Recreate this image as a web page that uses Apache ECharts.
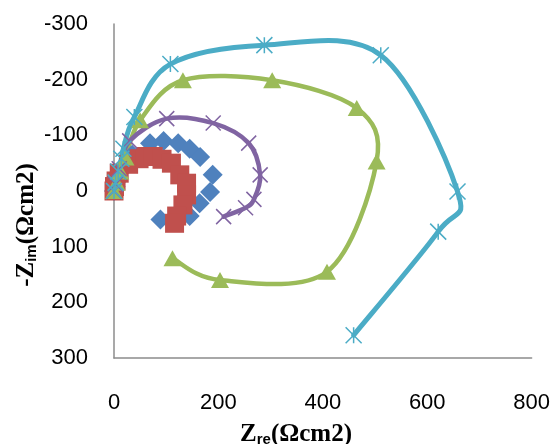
<!DOCTYPE html>
<html lang="en">
<head>
    <meta charset="UTF-8">
    <title>Nyquist plot</title>
    <script src="https://cdn.jsdelivr.net/npm/echarts@6/dist/echarts.min.js"></script>
    <style>
        html, body { margin: 0; padding: 0; background: #fff; }
        #main { width: 553px; height: 444px; }
    </style>
</head>
<body>
    <div id="main"></div>
    <script>
        // axis ticks
        const xTicks = [0, 200, 400, 600, 800];
        const yTicks = [-300, -200, -100, 0, 100, 200, 300];

        // series values (Zre, -Zim)
        const blueRe = [0, 3, 8, 18, 35, 69, 95, 123, 145, 165, 189, 184, 164, 145, 120, 89];
        const blueIm = [0, -8, -20, -40, -65, -86, -90, -86, -76, -61, -29, 2, 22, 45, 55, 51];

        const redRe = [0, 1, 4, 10, 28, 48, 60, 75, 92, 110, 126, 139, 139, 132, 120, 116];
        const redIm = [0, -8, -18, -32, -48, -58, -62, -62, -57, -50, -29, -14, 7, 25, 45, 58];

        const greenRe = [0, 5, 12, 22, 50, 132, 303, 465, 503, 408, 203, 112];
        const greenIm = [0, -15, -35, -60, -127, -199, -199, -149, -53, 145, 160, 121];

        const purpleRe = [0, 3, 10, 30, 101, 190, 258, 280, 268, 252, 210];
        const purpleIm = [0, -12, -40, -90, -130, -122, -86, -29, 15, 30, 46];

        const cyanRe = [0, 3, 8, 14, 18, 39, 108, 288, 511, 658, 621, 459];
        const cyanIm = [0, -15, -35, -58, -76, -133, -228, -262, -244, 1, 73, 259];

        const pairs = (xs, ys) => xs.map((x, i) => [x, ys[i]]);

        const chart = echarts.init(document.getElementById('main'));

        const axisGray = '#8c8c8c';
        const labelFont = { fontFamily: 'Liberation Sans', fontSize: 22, color: '#000' };
        const nameRich = {
            a: { fontFamily: 'Liberation Serif', fontWeight: 'bold', fontSize: 25, color: '#000', verticalAlign: 'bottom', lineHeight: 28 },
            b: { fontFamily: 'Liberation Sans', fontWeight: 'bold', fontSize: 15, color: '#000', verticalAlign: 'bottom', lineHeight: 24 }
        };

        // Excel-style smoothed line: Catmull-Rom through the points, mapped with api.coord
        function smoothCurve(data, color, width) {
            return {
                type: 'custom',
                data: data,
                silent: true,
                renderItem: function (params, api) {
                    if (params.dataIndexInside !== 0) return null;
                    const p = data.map(d => api.coord(d));
                    let path = 'M' + p[0][0] + ',' + p[0][1];
                    for (let i = 0; i < p.length - 1; i++) {
                        const p0 = p[i - 1] || p[i];
                        const p1 = p[i];
                        const p2 = p[i + 1];
                        const p3 = p[i + 2] || p2;
                        const c1 = [p1[0] + (p2[0] - p0[0]) / 6, p1[1] + (p2[1] - p0[1]) / 6];
                        const c2 = [p2[0] - (p3[0] - p1[0]) / 6, p2[1] - (p3[1] - p1[1]) / 6];
                        path += 'C' + c1[0] + ',' + c1[1] + ',' + c2[0] + ',' + c2[1] + ',' + p2[0] + ',' + p2[1];
                    }
                    return {
                        type: 'path',
                        shape: { pathData: path },
                        style: { stroke: color, lineWidth: width, fill: null, lineJoin: 'round', lineCap: 'round' }
                    };
                }
            };
        }

        function strokeMarkers(data, symbol, size, color) {
            return {
                type: 'scatter',
                data: data,
                symbol: symbol,
                symbolSize: size,
                itemStyle: { color: 'rgba(0,0,0,0)', borderColor: color, borderWidth: 1.5, opacity: 1 }
            };
        }

        const greenData = pairs(greenRe, greenIm);
        const purpleData = pairs(purpleRe, purpleIm);
        const cyanData = pairs(cyanRe, cyanIm);

        const option = {
            animation: false,
            grid: { left: 114, right: 21, top: 24, bottom: 86 },
            xAxis: {
                type: 'value',
                min: xTicks[0],
                max: xTicks[xTicks.length - 1],
                interval: 200,
                axisLine: { show: true, onZero: false, lineStyle: { color: axisGray, width: 1.5 } },
                axisTick: { show: false },
                splitLine: { show: false },
                axisLabel: Object.assign({ margin: 34 }, labelFont)
            },
            yAxis: {
                type: 'value',
                inverse: true,
                min: yTicks[0],
                max: yTicks[yTicks.length - 1],
                interval: 100,
                axisLine: { show: true, onZero: false, lineStyle: { color: axisGray, width: 1.5 } },
                axisTick: { show: false },
                splitLine: { show: false },
                axisLabel: Object.assign({ margin: 26 }, labelFont)
            },
            graphic: [
                {
                    type: 'text',
                    x: 296, y: 433,
                    style: { text: '{a|Z}{b|re}{a|(Ωcm2)}', align: 'center', verticalAlign: 'middle', rich: nameRich }
                },
                {
                    type: 'text',
                    x: 25, y: 225,
                    rotation: Math.PI / 2,
                    style: { text: '{a|-Z}{b|im}{a|(Ωcm2)}', align: 'center', verticalAlign: 'middle', rich: nameRich }
                }
            ],
            series: [
                {
                    name: 'blue',
                    type: 'scatter',
                    symbol: 'diamond',
                    symbolSize: 20,
                    itemStyle: { color: '#4f81bd', opacity: 1 },
                    data: pairs(blueRe, blueIm)
                },
                {
                    name: 'red',
                    type: 'scatter',
                    symbol: 'rect',
                    symbolSize: 19,
                    itemStyle: { color: '#c0504d', opacity: 1 },
                    data: pairs(redRe, redIm)
                },
                smoothCurve(greenData, '#9bbb59', 4.5),
                {
                    name: 'green',
                    type: 'scatter',
                    symbol: 'triangle',
                    symbolSize: [18, 16],
                    itemStyle: { color: '#9bbb59', opacity: 1 },
                    data: greenData
                },
                smoothCurve(purpleData, '#8064a2', 4.5),
                strokeMarkers(purpleData, 'path://M0,0L10,10M10,0L0,10', 15, '#8064a2'),
                smoothCurve(cyanData, '#4bacc6', 5),
                strokeMarkers(cyanData, 'path://M0,0L10,10M10,0L0,10M5,0L5,10', 16, '#4bacc6')
            ]
        };

        chart.setOption(option);
    </script>
</body>
</html>
